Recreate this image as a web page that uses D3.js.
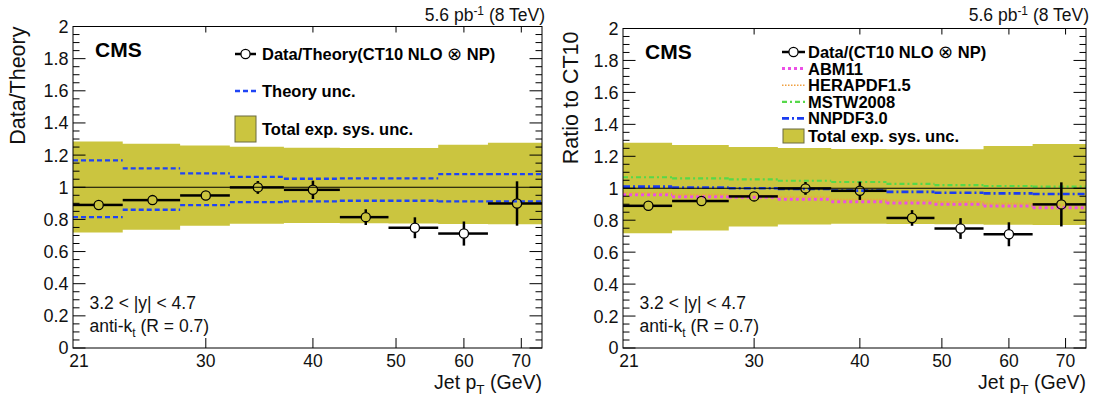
<!DOCTYPE html>
<html><head><meta charset="utf-8">
<script src="https://cdn.jsdelivr.net/npm/d3@7"></script>
<style>
html,body{margin:0;padding:0;background:#fff;}
svg{display:block;font-family:"Liberation Sans",Arial,Helvetica,sans-serif;}
</style></head>
<body>
<script>
// ---------------- data ----------------
const binEdges = [21, 24, 28, 32, 37, 43, 49, 56, 64, 74];
const ptMean   = [22.5, 26.0, 30.0, 34.5, 40.0, 46.1, 52.6, 60.0, 69.2];
const ratio    = [0.890, 0.920, 0.949, 0.999, 0.984, 0.814, 0.748, 0.712, 0.899];
const statErr  = [0.012, 0.015, 0.018, 0.040, 0.057, 0.049, 0.065, 0.075, 0.138];
const expSysUp = [1.285, 1.271, 1.259, 1.252, 1.246, 1.244, 1.244, 1.265, 1.277];
const expSysDn = [0.718, 0.735, 0.760, 0.773, 0.777, 0.776, 0.774, 0.772, 0.770];
const theoryUp = [1.167, 1.117, 1.086, 1.065, 1.053, 1.055, 1.055, 1.082, 1.082];
const theoryDn = [0.814, 0.860, 0.889, 0.908, 0.912, 0.916, 0.916, 0.912, 0.912];
const abm11    = [0.960, 0.947, 0.943, 0.931, 0.916, 0.908, 0.900, 0.889, 0.878];
const hera15   = [0.972, 0.960, 0.955, 0.945, 0.930, 0.923, 0.915, 0.905, 0.895];
const mstw2008 = [1.069, 1.062, 1.056, 1.047, 1.039, 1.027, 1.020, 1.014, 1.010];
const nnpdf30  = [1.010, 1.005, 1.000, 0.995, 0.985, 0.977, 0.972, 0.968, 0.964];
const xTicks   = [21, 30, 40, 50, 60, 70];
const yTicks   = [0, 0.2, 0.4, 0.6, 0.8, 1, 1.2, 1.4, 1.6, 1.8, 2];

// ---------------- style ----------------
const W = 1097, H = 399;
const BAND = "#cbc53f";
const svg = d3.select("body").append("svg").attr("width", W).attr("height", H);

function drawPanel(cfg) {
  const g = svg.append("g");
  const x = d3.scaleLog().domain([21, 74]).range([cfg.x0, cfg.x1]);
  const y = d3.scaleLinear().domain([0, 2]).range([cfg.y1, cfg.y0]);
  const bins = d3.range(ratio.length);

  // band
  const pts = [];
  bins.forEach(i => { pts.push([binEdges[i], expSysUp[i], expSysDn[i]]); pts.push([binEdges[i+1], expSysUp[i], expSysDn[i]]); });
  g.append("path").datum(pts)
    .attr("d", d3.area().x(d => x(d[0])).y0(d => y(d[2])).y1(d => y(d[1])))
    .attr("fill", BAND);

  // step curves (horizontal per bin)
  function steps(vals, color, width, dash) {
    g.append("g").selectAll("line").data(bins).join("line")
      .attr("x1", i => x(binEdges[i])).attr("x2", i => x(binEdges[i+1]))
      .attr("y1", i => y(vals[i])).attr("y2", i => y(vals[i]))
      .attr("stroke", color).attr("stroke-width", width)
      .attr("stroke-dasharray", dash).attr("fill", "none");
  }
  cfg.curves.forEach(c => steps(c.vals, c.color, c.width, c.dash));

  // line at 1
  g.append("line").attr("x1", cfg.x0).attr("x2", cfg.x1).attr("y1", y(1)).attr("y2", y(1))
    .attr("stroke", "#000").attr("stroke-width", 1);

  // data
  const r = 4.6;
  const dg = g.append("g").attr("stroke", "#000").attr("stroke-width", 2.5);
  bins.forEach(i => {
    const cx = x(ptMean[i]), cy = y(ratio[i]);
    dg.append("line").attr("x1", x(binEdges[i])).attr("x2", cx - r).attr("y1", cy).attr("y2", cy);
    dg.append("line").attr("x1", cx + r).attr("x2", x(binEdges[i+1])).attr("y1", cy).attr("y2", cy);
    const top = y(ratio[i] + statErr[i]), bot = y(ratio[i] - statErr[i]);
    if (cy - top > r) {
      dg.append("line").attr("x1", cx).attr("x2", cx).attr("y1", top).attr("y2", cy - r);
      dg.append("line").attr("x1", cx).attr("x2", cx).attr("y1", cy + r).attr("y2", bot);
    }
  });
  g.append("g").selectAll("circle").data(bins).join("circle")
    .attr("cx", i => x(ptMean[i])).attr("cy", i => y(ratio[i])).attr("r", r)
    .attr("fill", "none").attr("stroke", "#000").attr("stroke-width", 1.3);

  // frame
  const ax = g.append("g").attr("stroke", "#000").attr("stroke-width", 1);
  ax.append("rect").attr("x", cfg.x0).attr("y", cfg.y0).attr("width", cfg.x1 - cfg.x0).attr("height", cfg.y1 - cfg.y0)
    .attr("fill", "none");
  // y ticks
  d3.range(0, 2.0001, 0.05).forEach(v => {
    const major = Math.abs(v / 0.2 - Math.round(v / 0.2)) < 1e-6;
    const L = major ? 12.5 : 6.5;
    ax.append("line").attr("x1", cfg.x0).attr("x2", cfg.x0 + L).attr("y1", y(v)).attr("y2", y(v));
    ax.append("line").attr("x1", cfg.x1).attr("x2", cfg.x1 - L).attr("y1", y(v)).attr("y2", y(v));
  });
  // x ticks
  xTicks.slice(1).forEach(v => {
    ax.append("line").attr("x1", x(v)).attr("x2", x(v)).attr("y1", cfg.y1).attr("y2", cfg.y1 - 10);
    ax.append("line").attr("x1", x(v)).attr("x2", x(v)).attr("y1", cfg.y0).attr("y2", cfg.y0 + 6);
  });
  // tick labels
  g.append("g").selectAll("text").data(yTicks).join("text")
    .attr("x", cfg.x0 - 4.5).attr("y", d => y(d)).attr("dy", "0.36em")
    .attr("text-anchor", "end").attr("font-size", 18).attr("fill", "#111")
    .text(d => d3.format("")(d));
  g.append("g").selectAll("text").data(xTicks).join("text")
    .attr("x", d => x(d) + (d === 21 ? 6 : 0)).attr("y", 367)
    .attr("text-anchor", "middle").attr("font-size", 17.5).attr("fill", "#111")
    .text(d => d);

  // titles
  g.append("text").attr("transform", `translate(${cfg.ytx},${cfg.y0 + cfg.ytOff}) rotate(-90)`)
    .attr("text-anchor", "end").attr("font-size", 21.5).attr("fill", "#111").text(cfg.ytitle);
  const xt = g.append("text").attr("x", cfg.x1).attr("y", 389).attr("text-anchor", "end")
    .attr("font-size", 19.5).attr("fill", "#111");
  xt.append("tspan").text("Jet p");
  xt.append("tspan").attr("font-size", 13.5).attr("dy", 5).text("T");
  xt.append("tspan").attr("dy", -5).text(" (GeV)");

  const lum = g.append("text").attr("x", cfg.x1 + 3).attr("y", 21).attr("text-anchor", "end")
    .attr("font-size", 17.5).attr("fill", "#111");
  lum.append("tspan").text("5.6 pb");
  lum.append("tspan").attr("font-size", 12).attr("dy", -6).text("-1");
  lum.append("tspan").attr("dy", 6).text(" (8 TeV)");

  g.append("text").attr("x", cfg.x0 + 22).attr("y", cfg.y0 + 30).attr("font-size", 21)
    .attr("font-weight", "bold").attr("fill", "#000").text("CMS");

  g.append("text").attr("x", cfg.x0 + 16.5).attr("y", 309).attr("font-size", 17.5).attr("fill", "#111")
    .text("3.2 < |y| < 4.7");
  const ak = g.append("text").attr("x", cfg.x0 + 16.5).attr("y", 332).attr("font-size", 17.5).attr("fill", "#111");
  ak.append("tspan").text("anti-k");
  ak.append("tspan").attr("font-size", 12).attr("dy", 5).text("t");
  ak.append("tspan").attr("dy", -5).text(" (R = 0.7)");
  return {g, x, y};
}

function legendText(g, tx, ty, label) {
  const t = g.append("text").attr("x", tx).attr("y", ty).attr("font-size", 16.5)
    .attr("font-weight", "bold").attr("fill", "#000");
  const parts = label.split("⊗");
  t.append("tspan").text(parts[0]);
  if (parts.length > 1) {
    t.append("tspan").attr("font-weight", "normal").attr("font-size", 18).text("⊗");
    t.append("tspan").text(parts[1]);
  }
}
function legendMarker(g, xa, xb, yy) {
  const cx = (xa + xb) / 2, r = 4.6;
  g.append("line").attr("x1", xa).attr("x2", cx - r).attr("y1", yy).attr("y2", yy).attr("stroke", "#000").attr("stroke-width", 2.5);
  g.append("line").attr("x1", cx + r).attr("x2", xb).attr("y1", yy).attr("y2", yy).attr("stroke", "#000").attr("stroke-width", 2.5);
  g.append("circle").attr("cx", cx).attr("cy", yy).attr("r", r).attr("fill", "none").attr("stroke", "#000").attr("stroke-width", 1.3);
}

// ---------------- left panel ----------------
const theoryStyle = {color: "#1f44f5", width: 2.3, dash: "5,3"};
const L = drawPanel({
  x0: 73, x1: 542, y0: 26.5, y1: 348, ytx: 25, ytOff: 0, ytitle: "Data/Theory",
  curves: [
    {vals: theoryUp, ...theoryStyle},
    {vals: theoryDn, ...theoryStyle}
  ]
});
{
  const g = L.g;
  legendMarker(g, 235, 256, 54);
  legendText(g, 262, 60, "Data/Theory(CT10 NLO ⊗ NP)");
  g.append("line").attr("x1", 235).attr("x2", 256).attr("y1", 91).attr("y2", 91)
    .attr("stroke", theoryStyle.color).attr("stroke-width", theoryStyle.width).attr("stroke-dasharray", theoryStyle.dash);
  legendText(g, 262, 97, "Theory unc.");
  g.append("rect").attr("x", 235).attr("y", 116).attr("width", 21).attr("height", 26)
    .attr("fill", BAND).attr("stroke", "#6a6a40").attr("stroke-width", 1);
  legendText(g, 262, 135, "Total exp. sys. unc.");
}

// ---------------- right panel ----------------
const pdfStyles = [
  {name: "ABM11",      vals: abm11,    color: "#ec4fe6", width: 3,   dash: "3,3"},
  {name: "HERAPDF1.5", vals: hera15,   color: "#f0a040", width: 1.6, dash: "1.5,1.5"},
  {name: "MSTW2008",   vals: mstw2008, color: "#56d84a", width: 2.2, dash: "5,3,2,3"},
  {name: "NNPDF3.0",   vals: nnpdf30,  color: "#1a3cf0", width: 2.6, dash: "7,3,2,3"}
];
const R = drawPanel({
  x0: 623, x1: 1086, y0: 28.5, y1: 348, ytx: 578, ytOff: 3, ytitle: "Ratio to CT10",
  curves: pdfStyles
});
{
  const g = R.g;
  const rows = [52, 68.6, 85.2, 101.8, 118.4, 135.5];
  legendMarker(g, 782, 805, rows[0]);
  legendText(g, 808, rows[0] + 6, "Data/(CT10 NLO ⊗ NP)");
  pdfStyles.forEach((s, i) => {
    g.append("line").attr("x1", 782).attr("x2", 805).attr("y1", rows[i+1]).attr("y2", rows[i+1])
      .attr("stroke", s.color).attr("stroke-width", s.width).attr("stroke-dasharray", s.dash);
    legendText(g, 808, rows[i+1] + 6, s.name);
  });
  g.append("rect").attr("x", 783).attr("y", 129).attr("width", 21).attr("height", 14)
    .attr("fill", BAND).attr("stroke", "#6a6a40").attr("stroke-width", 1);
  legendText(g, 808, rows[5] + 6, "Total exp. sys. unc.");
}
</script>
</body></html>
